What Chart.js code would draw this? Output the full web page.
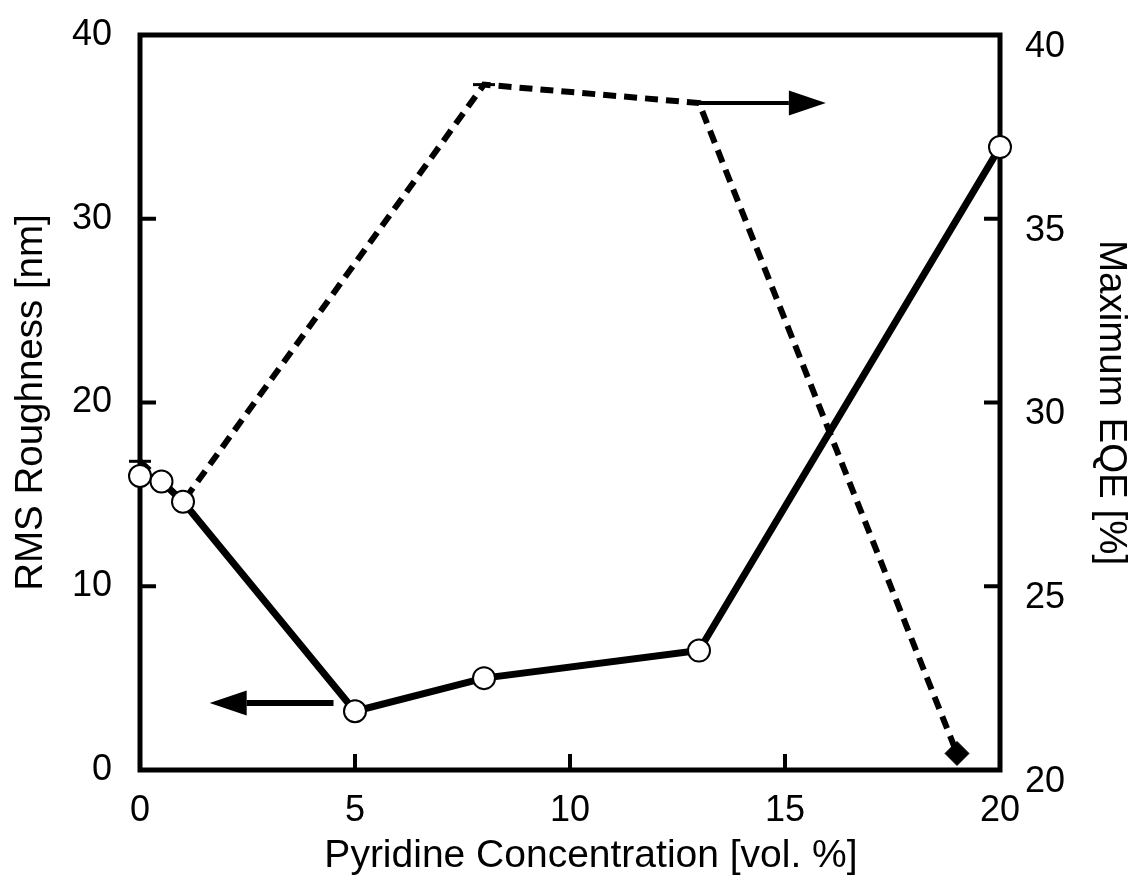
<!DOCTYPE html>
<html>
<head>
<meta charset="utf-8">
<script src="https://cdn.jsdelivr.net/npm/chart.js@4.4.1/dist/chart.umd.min.js"></script>
<style>
  html, body { margin: 0; padding: 0; background: #fff; }
  #wrap { width: 1138px; height: 895px; }
</style>
</head>
<body>
<div id="wrap"><canvas id="chart" width="1138" height="895"></canvas></div>
<script>
// 데이터
const pyridineConc = [0, 0.5, 1, 5, 8, 13, 20];
const rmsRoughness = [16.0, 15.7, 14.6, 3.2, 5.0, 6.5, 33.9];

const eqeConc = [0, 1, 8, 13, 19];
const maxEqe = [28.4, 27.3, 38.65, 38.15, 20.45];
const eqeStyles = ['line', 'line', 'line', 'line', 'rectRot'];

const xTicks = [0, 5, 10, 15, 20];
const leftTicks = [0, 10, 20, 30, 40];
const rightTicks = [20, 25, 30, 35, 40];

const xTitle = 'Pyridine Concentration [vol. %]';

// 화살표 (축 값 기준)
const arrowLeft = { axis: 'yL', from: 4.5, to: 1.62, y: 3.65 };
const arrowRight = { axis: 'yR', from: 13, to: 15.95, y: 38.15 };

const FONT = 'Liberation Sans, Arial, Helvetica, sans-serif';

// 축 크기 고정 (라벨 여백 무시)
function fixPad(sc) {
  sc.paddingTop = 0; sc.paddingBottom = 0;
  sc.paddingLeft = 0; sc.paddingRight = 0;
}

// 테두리, 안쪽 눈금, 화살표, x축 제목 그리기
const framePlugin = {
  id: 'frame',
  beforeDatasetsDraw(chart) {
    const ctx = chart.ctx;
    const a = chart.chartArea;
    const s = chart.scales;
    ctx.save();
    ctx.strokeStyle = '#000';
    ctx.lineWidth = 5;
    ctx.strokeRect(a.left, a.top, a.right - a.left, a.bottom - a.top);
    ctx.lineWidth = 4;
    ctx.beginPath();
    xTicks.forEach(v => {
      const px = s.x.getPixelForValue(v);
      ctx.moveTo(px, a.bottom); ctx.lineTo(px, a.bottom - 16);
    });
    leftTicks.forEach(v => {
      const py = s.yL.getPixelForValue(v);
      ctx.moveTo(a.left, py); ctx.lineTo(a.left + 16, py);
    });
    rightTicks.forEach(v => {
      const py = s.yR.getPixelForValue(v);
      ctx.moveTo(a.right, py); ctx.lineTo(a.right - 16, py);
    });
    ctx.stroke();

    // x축 제목 (원본은 중앙보다 약간 오른쪽)
    ctx.fillStyle = '#000';
    ctx.font = '39px ' + FONT;
    ctx.textAlign = 'center';
    ctx.textBaseline = 'middle';
    ctx.fillText(xTitle, (a.left + a.right) / 2 + 21, a.bottom + 86);
    ctx.restore();
  },
  afterDatasetsDraw(chart) {
    const ctx = chart.ctx;
    const s = chart.scales;
    function drawArrow(ar, lw) {
      const x1 = s.x.getPixelForValue(ar.from);
      const x2 = s.x.getPixelForValue(ar.to);
      const y = s[ar.axis].getPixelForValue(ar.y);
      const dir = x2 > x1 ? 1 : -1;
      const head = 37;
      ctx.save();
      ctx.strokeStyle = '#000';
      ctx.fillStyle = '#000';
      ctx.lineWidth = lw;
      ctx.beginPath();
      ctx.moveTo(x1, y);
      ctx.lineTo(x2 - dir * head, y);
      ctx.stroke();
      ctx.beginPath();
      ctx.moveTo(x2, y);
      ctx.lineTo(x2 - dir * head, y - 12.5);
      ctx.lineTo(x2 - dir * head, y + 12.5);
      ctx.closePath();
      ctx.fill();
      ctx.restore();
    }
    drawArrow(arrowLeft, 6);
    drawArrow(arrowRight, 4);
  }
};

const ctx = document.getElementById('chart').getContext('2d');
new Chart(ctx, {
  type: 'scatter',
  data: {
    datasets: [{
      label: 'RMS Roughness',
      data: pyridineConc.map((x, i) => ({ x, y: rmsRoughness[i] })),
      yAxisID: 'yL',
      showLine: true,
      borderColor: '#000',
      borderWidth: 7,
      pointRadius: 11,
      pointBackgroundColor: '#fff',
      pointBorderColor: '#000',
      pointBorderWidth: 2,
      clip: false
    }, {
      label: 'Maximum EQE',
      data: eqeConc.map((x, i) => ({ x, y: maxEqe[i] })),
      yAxisID: 'yR',
      showLine: true,
      borderColor: '#000',
      borderWidth: 6,
      borderDash: [13, 8],
      pointStyle: eqeStyles,
      pointRadius: eqeStyles.map(p => p === 'line' ? 11 : 12),
      pointBackgroundColor: '#000',
      pointBorderColor: '#000',
      pointBorderWidth: eqeStyles.map(p => p === 'line' ? 3 : 1),
      clip: false
    }]
  },
  options: {
    responsive: false,
    animation: false,
    layout: { padding: { top: 35, left: 0, right: 0, bottom: 0 } },
    plugins: { legend: { display: false }, tooltip: { enabled: false } },
    scales: {
      x: {
        type: 'linear', min: 0, max: 20,
        afterFit(sc) { sc.height = 125; fixPad(sc); },
        afterBuildTicks(sc) { sc.ticks = xTicks.map(v => ({ value: v })); },
        grid: { display: false, drawTicks: false },
        border: { display: false },
        ticks: { color: '#000', padding: 19, maxRotation: 0, font: { family: FONT, size: 36 } },
        title: { display: false }
      },
      yL: {
        type: 'linear', position: 'left', min: 0, max: 40,
        afterFit(sc) { sc.width = 140; fixPad(sc); },
        afterBuildTicks(sc) { sc.ticks = leftTicks.map(v => ({ value: v })); },
        grid: { display: false, drawTicks: false },
        border: { display: false },
        ticks: { color: '#000', padding: 28, font: { family: FONT, size: 36 } },
        title: { display: true, text: 'RMS Roughness [nm]', color: '#000',
                 padding: { top: 8, bottom: 0 }, font: { family: FONT, size: 38.5 } }
      },
      yR: {
        type: 'linear', position: 'right', min: 20, max: 40,
        afterFit(sc) { sc.width = 138; fixPad(sc); },
        afterBuildTicks(sc) { sc.ticks = rightTicks.map(v => ({ value: v })); },
        grid: { display: false, drawTicks: false },
        border: { display: false },
        ticks: { color: '#000', padding: 25, labelOffset: 12, font: { family: FONT, size: 36 } },
        title: { display: true, text: 'Maximum EQE [%]', color: '#000',
                 padding: { top: 4, bottom: 0 }, font: { family: FONT, size: 38.5 } }
      }
    }
  },
  plugins: [framePlugin]
});
</script>
</body>
</html>
